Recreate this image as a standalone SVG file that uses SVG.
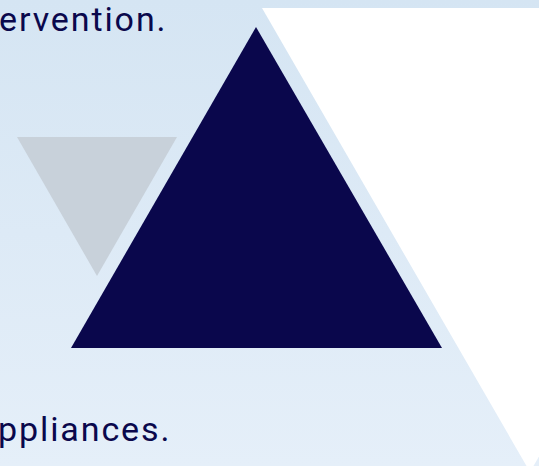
<svg xmlns="http://www.w3.org/2000/svg" width="539" height="466" viewBox="0 0 539 466">
<defs>
<linearGradient id="bg" x1="0" y1="0" x2="0" y2="1">
<stop offset="0" stop-color="#d5e5f3"/>
<stop offset="1" stop-color="#e5eff9"/>
</linearGradient>
<style>
.t{font-family:Roboto,"Liberation Sans",sans-serif;font-size:34px;fill:#0a084c;letter-spacing:1.9px}
</style>
</defs>
<rect width="539" height="466" fill="url(#bg)"/>
<g id="white-triangle"><polygon points="262,8 798,8 530,472" fill="#ffffff"/></g>
<g id="grey-triangle"><polygon points="17,137 177,137 97,276" fill="#c8d1da"/></g>
<g id="navy-triangle"><polygon points="256,27 442,348 71,348" fill="#0a074c"/></g>
<text class="t" x="-1" y="30.5">ervention.</text>
<text class="t" x="-2" y="441">ppliances.</text>
</svg>
